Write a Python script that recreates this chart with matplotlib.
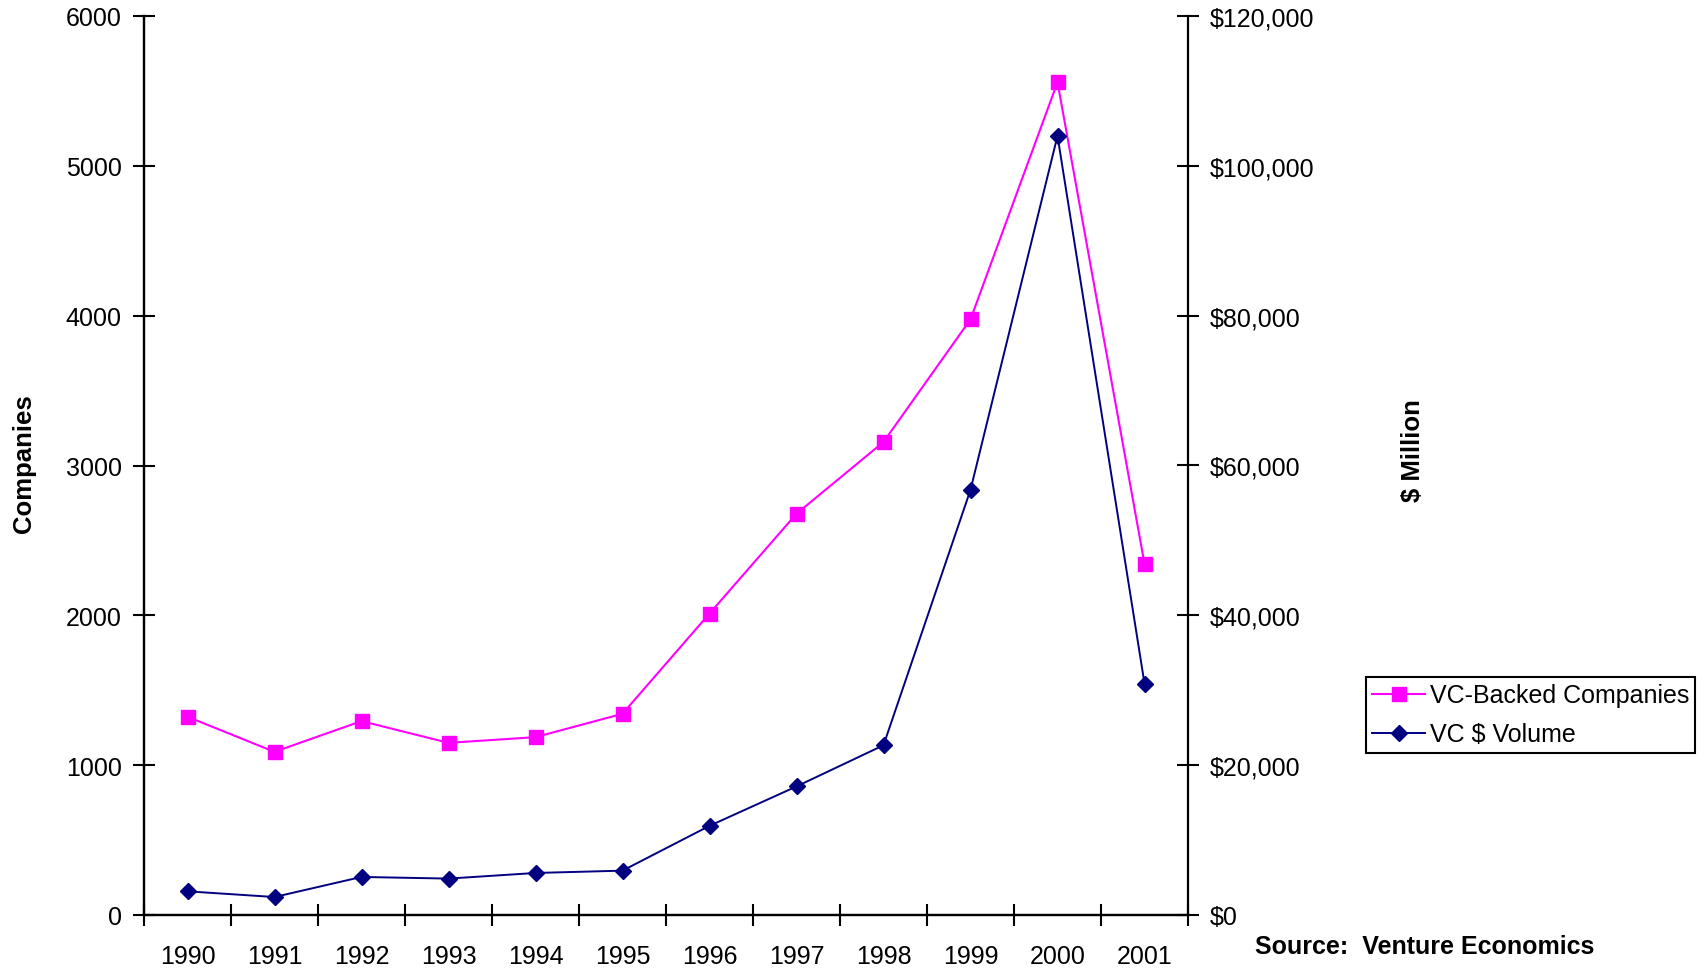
import numpy as np
import matplotlib
matplotlib.use("Agg")
import matplotlib.pyplot as plt
from matplotlib.ticker import FixedLocator, FuncFormatter

plt.rcParams["font.family"] = ["Liberation Sans", "DejaVu Sans"]

YEARS = ["1990", "1991", "1992", "1993", "1994", "1995",
         "1996", "1997", "1998", "1999", "2000", "2001"]
COMPANIES = [1323, 1089, 1294, 1149, 1187, 1343,
             2012, 2678, 3157, 3975, 5558, 2344]
VOLUME = [3160, 2400, 5080, 4860, 5610, 5920,
          11900, 17160, 22660, 56750, 104000, 30900]  # $ million

PINK = "#FF00FF"
NAVY = "#000080"
FS = 18

fig = plt.figure(figsize=(17.01, 9.70), dpi=100)
ax = fig.add_axes([144 / 1701, 54 / 970, 1044 / 1701, 899 / 970])
ax2 = ax.twinx()

x = np.arange(len(YEARS))
l1, = ax.plot(x, COMPANIES, color=PINK, lw=1.5, marker="s", ms=9.5,
              mec=PINK, mfc=PINK, label="VC-Backed Companies", zorder=3)
l2, = ax2.plot(x, VOLUME, color=NAVY, lw=1.4, marker="D", ms=8.5,
               mec=NAVY, mfc=NAVY, label="VC $ Volume", zorder=3)

ax.set_xlim(-0.5, len(YEARS) - 0.5)
ax.set_ylim(0, 6000)
ax2.set_ylim(0, 120000)

# category boundaries get the tick marks, centres get the year labels
ax.xaxis.set_major_locator(FixedLocator(np.arange(-0.5, len(YEARS), 1.0)))
ax.xaxis.set_major_formatter(FuncFormatter(lambda v, p: ""))
ax.xaxis.set_minor_locator(FixedLocator(x))
ax.set_xticklabels(YEARS, minor=True)
ax.tick_params(axis="x", which="major", direction="inout", length=16, width=1.5)
ax.tick_params(axis="x", which="minor", length=0, pad=21, labelsize=FS)

ax.set_yticks(np.arange(0, 6001, 1000))
ax.tick_params(axis="y", direction="inout", length=16, width=1.5,
               pad=8, labelsize=FS)
ax2.set_yticks(np.arange(0, 120001, 20000))
ax2.yaxis.set_major_formatter(FuncFormatter(lambda v, p: f"${int(v):,}"))
ax2.tick_params(axis="y", direction="inout", length=16, width=1.5,
                pad=8, labelsize=FS)

for a in (ax, ax2):
    a.spines["top"].set_visible(False)
    for s in ("left", "right", "bottom"):
        a.spines[s].set_linewidth(1.6)
ax.spines["right"].set_visible(False)

fig.text(24 / 1701, 1 - 464 / 970, "Companies", rotation=90, ha="center",
         va="center", fontsize=18.5, fontweight="bold")
fig.text(1413 / 1701, 1 - 451 / 970, "$ Million", rotation=90, ha="center",
         va="center", fontsize=18.5, fontweight="bold")
fig.text(1255 / 1701, 1 - 947 / 970, "Source:  Venture Economics",
         ha="left", va="center", fontsize=18, fontweight="bold")

leg = fig.legend([l1, l2], ["VC-Backed Companies", "VC $ Volume"],
                 loc="upper left", bbox_to_anchor=(1366 / 1701, 1 - 678 / 970),
                 fontsize=FS, frameon=True, fancybox=False, framealpha=1,
                 edgecolor="black", handlelength=2.1, handletextpad=0.2,
                 borderpad=0.25, labelspacing=0.6, borderaxespad=0)
leg.get_frame().set_linewidth(1.5)

fig.savefig("out.png", dpi=100)
